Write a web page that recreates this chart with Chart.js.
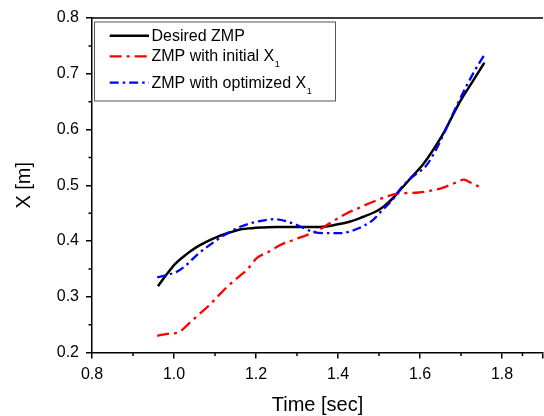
<!DOCTYPE html>
<html>
<head>
<meta charset="utf-8">
<title>ZMP trajectory</title>
<script src="https://cdn.jsdelivr.net/npm/chart.js"></script>
<style>
    html, body {
        margin: 0;
        padding: 0;
        background: #fff;
        overflow: hidden;
    }
    #wrap {
        width: 549px;   /* right frame of the plot sits just past the window edge */
        height: 416px;
    }
</style>
</head>
<body>
<div id="wrap"><canvas id="zmp"></canvas></div>
<script>
// values
const desiredT = [0.961, 0.98, 1.003, 1.03, 1.055, 1.08, 1.107, 1.135, 1.163, 1.19, 1.212, 1.25, 1.30, 1.35, 1.40, 1.43, 1.46, 1.49, 1.51, 1.53, 1.545, 1.58, 1.61, 1.653, 1.70, 1.73, 1.757];
const desiredX = [0.319, 0.338, 0.359, 0.376, 0.389, 0.399, 0.408, 0.415, 0.421, 0.423, 0.424, 0.425, 0.425, 0.425, 0.430, 0.435, 0.443, 0.452, 0.461, 0.474, 0.486, 0.515, 0.540, 0.588, 0.653, 0.688, 0.720];

const initialT = [0.959, 0.991, 1.011, 1.035, 1.059, 1.085, 1.107, 1.13, 1.155, 1.18, 1.203, 1.232, 1.26, 1.292, 1.332, 1.356, 1.38, 1.42, 1.45, 1.484, 1.52, 1.545, 1.597, 1.653, 1.685, 1.707, 1.725, 1.745];
const initialX = [0.230, 0.234, 0.236, 0.251, 0.267, 0.284, 0.301, 0.318, 0.334, 0.350, 0.370, 0.381, 0.393, 0.402, 0.413, 0.421, 0.432, 0.449, 0.459, 0.470, 0.480, 0.485, 0.487, 0.495, 0.504, 0.510, 0.504, 0.497];

const optimT = [0.959, 0.983, 1.007, 1.027, 1.059, 1.099, 1.13, 1.163, 1.204, 1.244, 1.276, 1.308, 1.336, 1.372, 1.404, 1.444, 1.484, 1.509, 1.533, 1.557, 1.59, 1.613, 1.64, 1.661, 1.693, 1.733, 1.758];
const optimX = [0.335, 0.339, 0.345, 0.355, 0.377, 0.399, 0.414, 0.426, 0.435, 0.439, 0.435, 0.426, 0.417, 0.414, 0.414, 0.421, 0.437, 0.456, 0.474, 0.498, 0.520, 0.533, 0.565, 0.597, 0.648, 0.705, 0.735];

const seriesNames = ['Desired ZMP', 'ZMP with initial X', 'ZMP with optimized X'];
const seriesSubs = ['', '1', '1'];

const FONT = "'Liberation Sans', Arial, sans-serif";

function toPoints(ts, xs) {
    return ts.map((t, i) => ({ x: t, y: xs[i] }));
}

// top frame line, minor ticks and the boxed legend inside the plot
const framePlugin = {
    id: 'frame',
    afterDraw(chart) {
        const ctx = chart.ctx;
        const area = chart.chartArea;
        const xs = chart.scales.x, ys = chart.scales.y;
        ctx.save();
        ctx.strokeStyle = '#000';
        ctx.lineWidth = 1.5;
        ctx.beginPath();
        ctx.moveTo(area.left, area.top);
        ctx.lineTo(area.right, area.top);
        ctx.stroke();

        // minor ticks halfway between the labelled ones
        ctx.beginPath();
        for (let i = 0; i < xs.ticks.length - 1; i++) {
            const px = xs.getPixelForValue((xs.ticks[i].value + xs.ticks[i + 1].value) / 2);
            ctx.moveTo(px, area.bottom);
            ctx.lineTo(px, area.bottom + 3.5);
        }
        for (let i = 0; i < ys.ticks.length - 1; i++) {
            const py = ys.getPixelForValue((ys.ticks[i].value + ys.ticks[i + 1].value) / 2);
            ctx.moveTo(area.left, py);
            ctx.lineTo(area.left - 3.5, py);
        }
        ctx.stroke();

        // legend
        const bx = area.left + 2, by = area.top + 3.5;
        ctx.strokeStyle = '#555';
        ctx.lineWidth = 1;
        ctx.strokeRect(bx + 0.5, by + 0.5, 241, 79);
        const rows = [17.7, 38.4, 64.7];
        chart.data.datasets.forEach((ds, i) => {
            const y = area.top + rows[i];
            ctx.strokeStyle = ds.borderColor;
            ctx.lineWidth = ds.borderWidth;
            ctx.setLineDash(ds.borderDash || []);
            ctx.beginPath();
            ctx.moveTo(area.left + 17.7, y);
            ctx.lineTo(area.left + 57, y);
            ctx.stroke();
            ctx.setLineDash([]);
            ctx.fillStyle = '#000';
            ctx.font = '16px ' + FONT;
            ctx.textBaseline = 'middle';
            ctx.textAlign = 'left';
            const tx = area.left + 59.5;
            ctx.fillText(seriesNames[i], tx, y + 0.5);
            if (seriesSubs[i]) {
                const w = ctx.measureText(seriesNames[i]).width;
                ctx.font = '9px ' + FONT;
                ctx.fillText(seriesSubs[i], tx + w + 0.5, y + 8.5);
            }
        });
        ctx.restore();
    }
};

new Chart(document.getElementById('zmp'), {
    type: 'line',
    data: {
        datasets: [{
            label: seriesNames[0],
            data: toPoints(desiredT, desiredX),
            borderColor: '#000000',
            borderWidth: 2.5,
            order: 3
        }, {
            label: seriesNames[1],
            data: toPoints(initialT, initialX),
            borderColor: '#ff0000',
            borderWidth: 2.3,
            borderDash: [12, 5, 3, 5],
            order: 2
        }, {
            label: seriesNames[2],
            data: toPoints(optimT, optimX),
            borderColor: '#0000ff',
            borderWidth: 2.3,
            borderDash: [9, 4, 2.5, 4],
            order: 1
        }]
    },
    options: {
        responsive: true,
        maintainAspectRatio: false,
        animation: false,
        devicePixelRatio: 1,
        layout: { padding: { top: 18, right: 0, bottom: 0, left: 0 } },
        elements: {
            point: { radius: 0 },
            line: { cubicInterpolationMode: 'monotone', fill: false }
        },
        plugins: {
            legend: { display: false },
            tooltip: { enabled: false }
        },
        scales: {
            x: {
                type: 'linear',
                min: 0.8,
                max: 1.9,
                afterFit: s => { s.height = 63.5; },
                border: { color: '#000', width: 1.5 },
                grid: { drawOnChartArea: false, drawTicks: true, tickLength: 6, tickColor: '#000', lineWidth: 1.5 },
                ticks: {
                    stepSize: 0.2,
                    padding: 6,
                    color: '#000',
                    maxRotation: 0,
                    font: { family: FONT, size: 16 },
                    callback: v => (v > 1.85 ? '' : v.toFixed(1))
                },
                title: {
                    display: true,
                    text: 'Time [sec]',
                    color: '#000',
                    font: { family: FONT, size: 20, lineHeight: 1 },
                    padding: { top: 0, bottom: 0.6 }
                }
            },
            y: {
                min: 0.2,
                max: 0.8,
                afterFit: s => { s.width = 92; },
                border: { color: '#000', width: 1.5 },
                grid: { drawOnChartArea: false, drawTicks: true, tickLength: 6, tickColor: '#000', lineWidth: 1.5 },
                ticks: {
                    stepSize: 0.1,
                    padding: 7,
                    color: '#000',
                    font: { family: FONT, size: 16 },
                    callback: v => v.toFixed(1)
                },
                title: {
                    display: true,
                    text: 'X [m]',
                    color: '#000',
                    font: { family: FONT, size: 20, lineHeight: 1 },
                    padding: { top: 14, bottom: 0 }
                }
            }
        }
    },
    plugins: [framePlugin]
});
</script>
</body>
</html>
